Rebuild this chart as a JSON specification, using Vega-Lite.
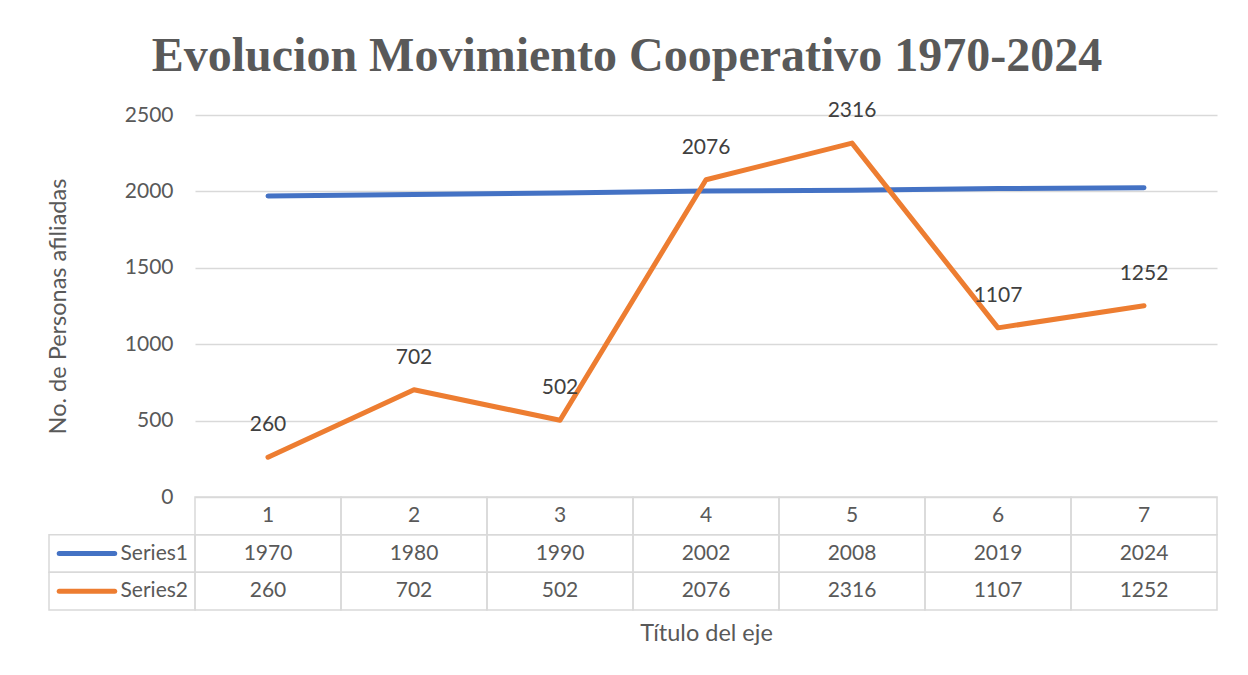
{
  "$schema": "https://vega.github.io/schema/vega-lite/v6.json",
  "background": "white",
  "padding": {"left": 46, "top": 33, "right": 33, "bottom": 23},
  "title": {"text": "Evolucion Movimiento Cooperativo 1970-2024", "font": "Liberation Serif", "fontSize": 48, "fontWeight": "bold", "color": "#595959", "anchor": "middle", "offset": 19, "dx": -5},
  "config": {"view": {"stroke": null}, "font": "Lato"},
  "datasets": {
    "points": [
      {"cat": "1", "series": "Series1", "value": 1970},
      {"cat": "2", "series": "Series1", "value": 1980},
      {"cat": "3", "series": "Series1", "value": 1990},
      {"cat": "4", "series": "Series1", "value": 2002},
      {"cat": "5", "series": "Series1", "value": 2008},
      {"cat": "6", "series": "Series1", "value": 2019},
      {"cat": "7", "series": "Series1", "value": 2024},
      {"cat": "1", "series": "Series2", "value": 260},
      {"cat": "2", "series": "Series2", "value": 702},
      {"cat": "3", "series": "Series2", "value": 502},
      {"cat": "4", "series": "Series2", "value": 2076},
      {"cat": "5", "series": "Series2", "value": 2316},
      {"cat": "6", "series": "Series2", "value": 1107},
      {"cat": "7", "series": "Series2", "value": 1252}
    ],
    "series": [{"series": "Series1"}, {"series": "Series2"}]
  },
  "bounds": "flush",
  "spacing": 0,
  "resolve": {"scale": {"x": "independent", "y": "independent", "color": "independent"}},
  "vconcat": [
    {
      "width": 1022,
      "height": 382,
      "data": {"name": "points"},
      "encoding": {
        "x": {"field": "cat", "type": "ordinal", "scale": {"type": "point", "padding": 0.5}, "axis": null},
        "y": {
          "field": "value", "type": "quantitative",
          "scale": {"domain": [0, 2500]},
          "axis": {
            "values": [0, 500, 1000, 1500, 2000, 2500], "format": "d",
            "grid": true, "gridColor": "#d9d9d9", "gridWidth": 1.5,
            "ticks": false, "domain": false,
            "labelFont": "Lato", "labelFontSize": 21, "labelColor": "#595959", "labelPadding": 22,
            "title": "No. de Personas afiliadas", "titleFont": "Lato", "titleFontSize": 23.5,
            "titleFontWeight": "normal", "titleColor": "#595959", "titlePadding": 54
          }
        }
      },
      "layer": [
        {
          "mark": {"type": "line", "strokeWidth": 5, "strokeCap": "round", "strokeJoin": "round"},
          "encoding": {
            "color": {"field": "series", "type": "nominal", "scale": {"domain": ["Series1", "Series2"], "range": ["#4472C4", "#ED7D31"]}, "legend": null}
          }
        },
        {
          "transform": [{"filter": "datum.series == 'Series2'"}],
          "mark": {"type": "text", "dy": -32, "fontSize": 21, "font": "Lato", "color": "#404040"},
          "encoding": {"text": {"field": "value", "type": "quantitative", "format": "d"}}
        }
      ]
    },
    {
      "width": 1022,
      "height": 113,
      "resolve": {"scale": {"x": "independent"}},
      "layer": [
        {
          "data": {"name": "points"},
          "encoding": {
            "x": {
              "field": "cat", "type": "ordinal",
              "scale": {"type": "band", "paddingInner": 0, "paddingOuter": 0},
              "axis": {"labels": false, "ticks": false, "domain": false, "grid": false,
                "title": "Título del eje", "titleFont": "Lato", "titleFontSize": 23.5,
                "titleFontWeight": "normal", "titleColor": "#595959", "titlePadding": 11}
            }
          },
          "layer": [
            {
              "mark": {"type": "rect", "filled": false, "stroke": "#d9d9d9", "strokeWidth": 1.5},
              "encoding": {
                "y": {"field": "series", "type": "nominal", "scale": {"type": "band", "domain": ["hdr", "Series1", "Series2"], "paddingInner": 0, "paddingOuter": 0}, "axis": null}
              }
            },
            {
              "transform": [{"filter": "datum.series == 'Series1'"}],
              "mark": {"type": "rect", "filled": false, "stroke": "#d9d9d9", "strokeWidth": 1.5},
              "encoding": {"y": {"datum": "hdr", "type": "nominal"}}
            },
            {
              "mark": {"type": "text", "fontSize": 21, "font": "Lato", "color": "#595959"},
              "encoding": {
                "y": {"field": "series", "type": "nominal"},
                "text": {"field": "value", "type": "quantitative", "format": "d"}
              }
            },
            {
              "transform": [{"filter": "datum.series == 'Series1'"}],
              "mark": {"type": "text", "fontSize": 21, "font": "Lato", "color": "#595959"},
              "encoding": {
                "y": {"datum": "hdr", "type": "nominal"},
                "text": {"field": "cat", "type": "nominal"}
              }
            }
          ]
        },
        {
          "data": {"name": "series"},
          "encoding": {
            "x": {"datum": "lbl", "type": "nominal", "scale": {"type": "band", "domain": ["lbl"], "range": [-146, 0], "paddingInner": 0, "paddingOuter": 0}, "axis": null},
            "y": {"field": "series", "type": "nominal"}
          },
          "layer": [
            {
              "mark": {"type": "rect", "filled": false, "stroke": "#d9d9d9", "strokeWidth": 1.5}
            },
            {
              "mark": {"type": "text", "fontSize": 21, "font": "Lato", "color": "#595959", "align": "right", "dx": -7},
              "encoding": {
                "x": {"datum": "lbl", "type": "nominal", "bandPosition": 1},
                "text": {"field": "series", "type": "nominal"}
              }
            },
            {
              "mark": {"type": "rule", "strokeWidth": 5, "strokeCap": "round"},
              "encoding": {
                "x": {"datum": "lbl", "type": "nominal", "bandPosition": 0.07},
                "x2": {"datum": "lbl", "bandPosition": 0.45},
                "color": {"field": "series", "type": "nominal", "scale": {"domain": ["Series1", "Series2"], "range": ["#4472C4", "#ED7D31"]}, "legend": null}
              }
            }
          ]
        }
      ]
    }
  ]
}
